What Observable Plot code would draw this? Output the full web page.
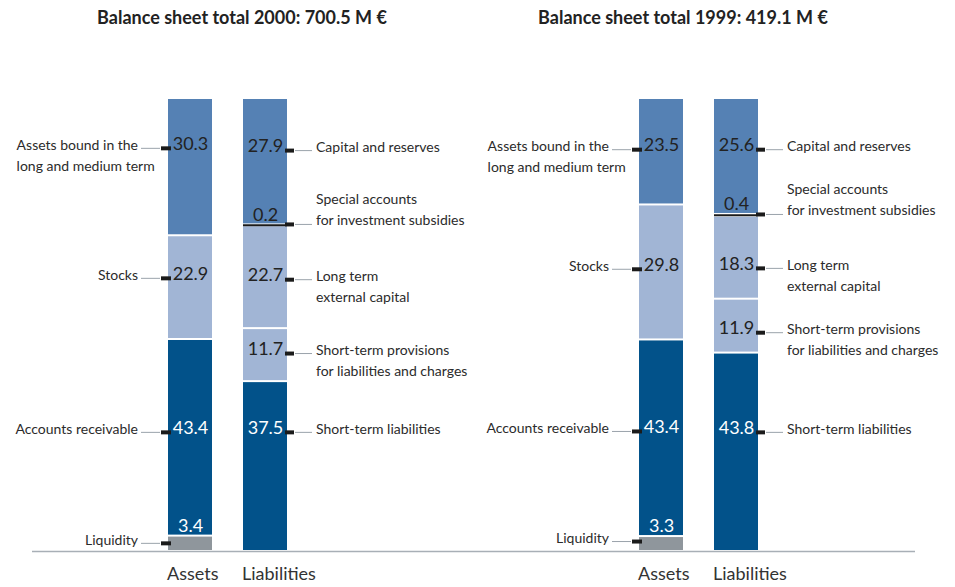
<!DOCTYPE html>
<html>
<head>
<meta charset="utf-8">
<script src="https://cdn.jsdelivr.net/npm/d3@7"></script>
<script src="https://cdn.jsdelivr.net/npm/@observablehq/plot@0.6"></script>
<style>
  html, body { margin: 0; padding: 0; background: #ffffff; }
  body { width: 955px; height: 587px; overflow: hidden; font-family: Lato, "Noto Sans", sans-serif; }
  #wrap { display: flex; }
  .panel { position: relative; }
  .title { position: absolute; top: 0; height: 34px; line-height: 34px; transform: translateX(-50%);
           white-space: nowrap; font-weight: bold; font-size: 18px; color: #222; }
  .chart { position: absolute; top: 34px; left: 0; }
</style>
</head>
<body>
<div id="wrap"></div>
<script>
// ---- data ----
const years = ["2000", "1999"];
const totals = ["700.5", "419.1"];
const sides = ["Assets", "Liabilities"];
const assetItems = ["Liquidity", "Accounts receivable", "Stocks", "Assets bound in the\nlong and medium term"];
const assetClass = ["cash", "short", "medium", "long"];
const liabilityItems = ["Short-term liabilities", "Short-term provisions\nfor liabilities and charges", "Long term\nexternal capital", "Special accounts\nfor investment subsidies", "Capital and reserves"];
const liabilityClass = ["short", "medium", "medium", "special", "long"];
const assets2000 = [3.4, 43.4, 22.9, 30.3];
const liabilities2000 = [37.5, 11.7, 22.7, 0.2, 27.9];
const assets1999 = [3.3, 43.4, 29.8, 23.5];
const liabilities1999 = [43.8, 11.9, 18.3, 0.4, 25.6];
// level (in % of balance sheet total) at which each label points into its bar
const assetLabelLevel2000 = [1.8, 26.3, 60.3, 89.0];
const liabilityLabelLevel2000 = [26.3, 43.7, 60.0, 72.2, 88.5];
const assetLabelLevel1999 = [2.2, 26.5, 62.3, 88.7];
const liabilityLabelLevel1999 = [26.3, 48.3, 62.5, 74.4, 88.7];

// ---- table ----
function build(assets, liabs, aLev, lLev) {
  const rows = [];
  let acc = 0;
  assets.forEach((v, i) => {
    rows.push({side: "Assets", name: assetItems[i], cls: assetClass[i], value: v, lo: acc, hi: acc + v,
               level: aLev[i], above: assetClass[i + 1]});
    acc += v;
  });
  acc = 0;
  liabs.forEach((v, i) => {
    rows.push({side: "Liabilities", name: liabilityItems[i], cls: liabilityClass[i], value: v, lo: acc, hi: acc + v,
               level: lLev[i], above: liabilityClass[i + 1]});
    acc += v;
  });
  return rows;
}
const tables = [
  build(assets2000, liabilities2000, assetLabelLevel2000, liabilityLabelLevel2000),
  build(assets1999, liabilities1999, assetLabelLevel1999, liabilityLabelLevel1999)
];

// ---- layout ----
const FONT = "Lato, 'Noto Sans', sans-serif";
const NAME_SIZE = 14;
const ctx = document.createElement("canvas").getContext("2d");
ctx.font = `${NAME_SIZE}px Lato`;
const BW = 45, HALF = BW / 2, GAP_A = 30, GAP_L = 28, LINE = 21;
const panels = [
  {width: 477, ml: 32, mr: 0, range: [136, 319], titleX: 242},
  {width: 478, ml: 0, mr: 40, range: [130, 313], titleX: 206}
];

function nameLines(rows) {
  const out = [];
  for (const r of rows) {
    const lines = r.name.split("\n");
    const small = r.value < 5;
    const w0 = ctx.measureText(lines[0]).width;
    lines.forEach((t, i) => {
      const dy = (r.side === "Liabilities" && small) ? -4 - (lines.length - 1 - i) * LINE : -3 + i * LINE;
      const dx = r.side === "Assets" ? -(HALF + GAP_A + w0) : HALF + GAP_L;
      out.push({...r, t, dy, dx});
    });
  }
  return out;
}

const wrap = document.getElementById("wrap");
tables.forEach((rows, p) => {
  const cfg = panels[p];
  const div = document.createElement("div");
  div.className = "panel";
  div.style.width = cfg.width + "px";
  div.style.height = "587px";
  const title = document.createElement("div");
  title.className = "title";
  title.style.left = cfg.titleX + "px";
  title.textContent = `Balance sheet total ${years[p]}: ${totals[p]} M €`;
  div.appendChild(title);

  const A = rows.filter(d => d.side === "Assets");
  const L = rows.filter(d => d.side === "Liabilities");
  const vals = rows.map(d => {
    const small = d.value < 5;
    const bg = small ? d.above : d.cls;
    return {...d, label: d.value.toFixed(1), y: small ? d.hi : d.level, small, light: bg === "short"};
  });
  const valueMarks = [];
  for (const small of [false, true]) {
    for (const light of [false, true]) {
      valueMarks.push(Plot.text(vals.filter(d => d.small === small && d.light === light), {
        x: "side", y: "y", dy: small ? -10 : -4, text: "label", fontSize: 18,
        fill: light ? "#ffffff" : "#222222"
      }));
    }
  }
  const lines = nameLines(rows);

  const chart = Plot.plot({
    width: cfg.width,
    height: 553,
    marginTop: 64,
    marginBottom: 36,
    marginLeft: cfg.ml,
    marginRight: cfg.mr,
    style: {fontFamily: FONT, background: "transparent", overflow: "visible"},
    x: {type: "band", domain: sides, range: cfg.range, paddingInner: 0.408, paddingOuter: 0.408, axis: null},
    y: {domain: [0, 100], axis: null},
    color: {domain: ["cash", "short", "medium", "long", "special"],
            range: ["#8f969c", "#02528a", "#a1b5d5", "#5581b4", "#1b1b1b"]},
    marks: [
      Plot.barY(rows.filter(d => d.cls !== "special"), {x: "side", y1: "lo", y2: "hi", fill: "cls", insetTop: 1, insetBottom: 1}),
      Plot.tickY(rows.filter(d => d.cls === "special"), {x: "side", y: d => (d.lo + d.hi) / 2, stroke: "#1b1b1b", strokeWidth: 2}),
      Plot.ruleY([0], {stroke: "#a8afb6", strokeWidth: 1.5}),
      // leader lines
      Plot.tickY(A, {x: "side", y: "level", stroke: "#9aa3ab", strokeWidth: 1, insetLeft: -27, insetRight: BW + 7}),
      Plot.tickY(A, {x: "side", y: "level", stroke: "#1b1b1b", strokeWidth: 4, insetLeft: -7, insetRight: BW - 4}),
      Plot.tickY(L, {x: "side", y: "level", stroke: "#9aa3ab", strokeWidth: 1, insetLeft: BW + 7, insetRight: -25}),
      Plot.tickY(L, {x: "side", y: "level", stroke: "#1b1b1b", strokeWidth: 4, insetLeft: BW - 3, insetRight: -7}),
      // values
      ...valueMarks,
      // names
      ...lines.map(d => Plot.text([d], {x: "side", y: "level", text: "t", dx: d.dx, dy: d.dy, textAnchor: "start",
                                       fontSize: NAME_SIZE, fill: "#2b2b2b"})),
      // axis labels
      Plot.text(sides, {x: d => d, y: () => 0, dx: -HALF - 1, dy: 23, textAnchor: "start", fontSize: 18, fill: "#333"})
    ]
  });
  chart.classList.add("chart");
  div.appendChild(chart);
  wrap.appendChild(div);
});
</script>
</body>
</html>
